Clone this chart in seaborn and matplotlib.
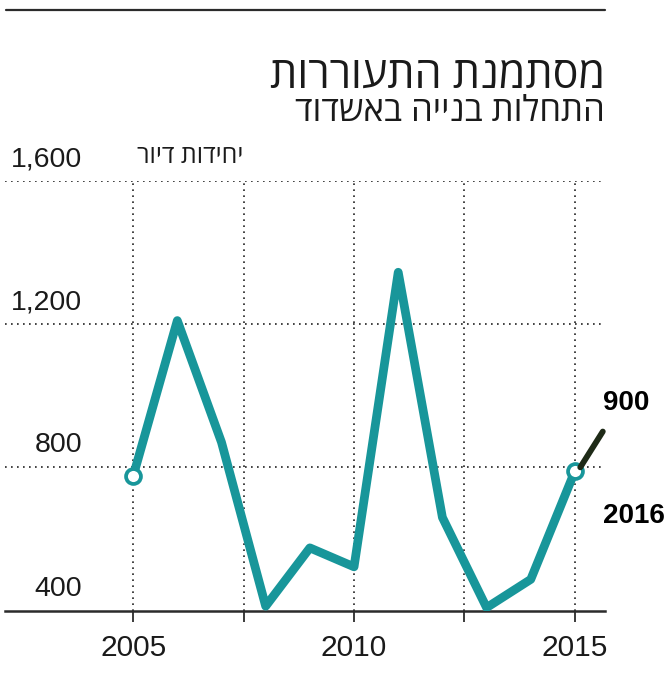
import matplotlib
matplotlib.use("Agg")
import matplotlib.pyplot as plt
from matplotlib.lines import Line2D
import seaborn as sns
import pandas as pd

# Housing starts in Ashdod (dwelling units)
years = [2005, 2006, 2007, 2008, 2009, 2010, 2011, 2012, 2013, 2014, 2015]
units = [775, 1210, 870, 412, 575, 522, 1345, 660, 408, 487, 790]

y_ticks = [400, 800, 1200, 1600]
y_tick_labels = ["400", "800", "1,200", "1,600"]
x_ticks = [2005, 2007.5, 2010, 2012.5, 2015]
x_tick_labels = ["2005", "", "2010", "", "2015"]

title = "מסתמנת התעוררות"
subtitle = "התחלות בנייה באשדוד"
unit_label = "יחידות דיור"
forecast_value = "900"
forecast_year = "2016"

TEAL = "#18969a"
DARK = "#2b2b2b"
HEB = ["Open Sans", "DejaVu Sans"]
LAT = ["Liberation Sans", "DejaVu Sans"]


def rtl(s):
    # matplotlib lays text out left-to-right, so Hebrew is reversed for display
    return s[::-1]


sns.set_theme(style="white")
plt.rcParams["font.family"] = LAT

W, H = 667, 685
fig = plt.figure(figsize=(W / 100, H / 100), dpi=100)
ax = fig.add_axes([5 / W, (H - 610.5) / H, 600 / W, 429.5 / H])

df = pd.DataFrame({"year": years, "units": units})
sns.lineplot(data=df, x="year", y="units", ax=ax, color=TEAL, linewidth=6.3,
             solid_joinstyle="round", solid_capstyle="round", zorder=4)
ends = df.iloc[[0, -1]]
sns.scatterplot(data=ends, x="year", y="units", ax=ax, s=115, color="white",
                edgecolor=TEAL, linewidth=2.7, zorder=5)

ax.set_xlim(2002.1, 2015.68)
ax.set_ylim(400, 1600)

# dotted grid
for yv in y_ticks[1:]:
    ax.axhline(yv, color="#222222", lw=1.2, ls=(0, (1, 2.6)), zorder=1)
for xv in x_ticks:
    ax.axvline(xv, color="#222222", lw=1.2, ls=(0, (1, 2.6)), zorder=1)

for side in ["top", "right", "left"]:
    ax.spines[side].set_visible(False)
ax.spines["bottom"].set_color(DARK)
ax.spines["bottom"].set_linewidth(1.8)

ax.set_xticks(x_ticks)
ax.set_xticklabels(x_tick_labels)
ax.tick_params(axis="x", length=8, width=1.3, color=DARK, direction="out",
               labelsize=21.5, labelcolor="#1a1a1a", pad=9, bottom=True)
ax.set_yticks([])
ax.set_xlabel("")
ax.set_ylabel("")

# y labels sit just above their gridlines
for yv, lab in zip(y_ticks, y_tick_labels):
    ax.annotate(lab, xy=(0.129, yv), xycoords=("axes fraction", "data"),
                xytext=(0, 9), textcoords="offset pixels", ha="right", va="bottom",
                fontsize=20.5, color="#1a1a1a", family=LAT, annotation_clip=False)

ax.annotate(rtl(unit_label), xy=(2007.5, 1600), xycoords="data",
            xytext=(0, 12), textcoords="offset pixels", ha="right", va="bottom",
            fontsize=18, color="#1a1a1a", family=HEB, annotation_clip=False)

# callout for the 2016 forecast
ax.annotate("", xy=(2015.12, 800), xytext=(2015.63, 900),
            arrowprops=dict(arrowstyle="-", color="#1e2a17", lw=4.2,
                            shrinkA=0, shrinkB=0),
            annotation_clip=False, zorder=6)
fig.text(626 / W, 1 - 403 / H, forecast_value, ha="center", va="center",
         fontsize=20, fontweight="bold", color="black", family=LAT)
fig.text(665 / W, 1 - 516 / H, forecast_year, ha="right", va="center",
         fontsize=20, fontweight="bold", color="black", family=LAT)

# heading
fig.add_artist(Line2D([6 / W, 605 / W], [1 - 10 / H, 1 - 10 / H],
                      color=DARK, lw=1.6))
fig.text(605 / W, 1 - 76 / H, rtl(title), ha="right", va="center",
         fontsize=31, color="#1a1a1a", family=HEB)
fig.text(605 / W, 1 - 112 / H, rtl(subtitle), ha="right", va="center",
         fontsize=25, color="#1a1a1a", family=HEB)

fig.savefig("out.png", dpi=100, facecolor="white")
